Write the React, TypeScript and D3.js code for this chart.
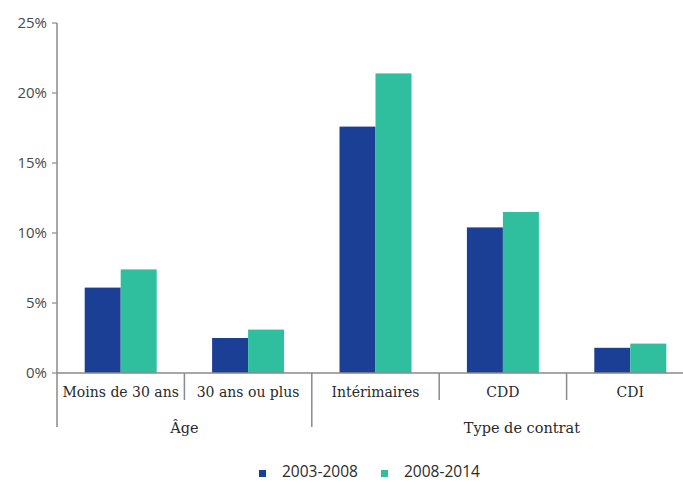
import React, { useEffect, useRef } from "react";
import * as d3 from "d3";

const categories = ["Moins de 30 ans", "30 ans ou plus", "Intérimaires", "CDD", "CDI"];
const groups = [
  { label: "Âge", from: 0, to: 1 },
  { label: "Type de contrat", from: 2, to: 4 },
];
const series = ["2003-2008", "2008-2014"];
const values2003 = [6.1, 2.5, 17.6, 10.4, 1.8];
const values2008 = [7.4, 3.1, 21.4, 11.5, 2.1];
const yTicks = [0, 5, 10, 15, 20, 25];
const colors = ["#1b3f95", "#2fbf9f"];

const W = 683;
const H = 484;
const axisColor = "#8a8a8a";
const serif = "'DejaVu Serif', serif";
const sans = "'Open Sans', 'DejaVu Sans', sans-serif";

export default function App() {
  const ref = useRef<SVGSVGElement>(null);

  useEffect(() => {
    const svg = d3.select(ref.current);
    svg.selectAll("*").remove();

    const x0 = 57;
    const y0 = 373;

    const x = d3.scaleBand<number>().domain(d3.range(categories.length)).range([x0, 694]);
    const y = d3.scaleLinear().domain([0, 25]).range([y0, 23]);
    const inner = d3.scaleBand<number>().domain([0, 1]).range([0, 72]);

    // bars
    const data = [values2003, values2008];
    data.forEach((vals, s) => {
      svg
        .append("g")
        .selectAll("rect")
        .data(vals)
        .join("rect")
        .attr("x", (_, i) => x(i)! + (x.bandwidth() - 72) / 2 + inner(s)!)
        .attr("y", (d) => y(d))
        .attr("width", inner.bandwidth())
        .attr("height", (d) => y0 - y(d))
        .attr("fill", colors[s]);
    });

    // y axis
    svg
      .append("line")
      .attr("x1", x0)
      .attr("x2", x0)
      .attr("y1", y(25))
      .attr("y2", y0 + 54)
      .attr("stroke", axisColor)
      .attr("stroke-width", 1.5);

    const yt = svg.append("g");
    yt.selectAll("line")
      .data(yTicks)
      .join("line")
      .attr("x1", x0 - 5)
      .attr("x2", x0)
      .attr("y1", (d) => y(d))
      .attr("y2", (d) => y(d))
      .attr("stroke", axisColor)
      .attr("stroke-width", 1.2);
    yt.selectAll("text")
      .data(yTicks)
      .join("text")
      .attr("x", x0 - 10)
      .attr("y", (d) => y(d))
      .attr("dy", "0.35em")
      .attr("text-anchor", "end")
      .attr("font-family", sans)
      .attr("font-size", 15)
      .attr("font-weight", 500)
      .attr("fill", "#4a4a4a")
      .text((d) => `${d}%`);

    // x axis
    svg
      .append("line")
      .attr("x1", x0)
      .attr("x2", W)
      .attr("y1", y0)
      .attr("y2", y0)
      .attr("stroke", axisColor)
      .attr("stroke-width", 1.5);

    const groupStarts = groups.map((g) => g.from);
    svg
      .append("g")
      .selectAll("line")
      .data(d3.range(1, categories.length))
      .join("line")
      .attr("x1", (i) => x(i)!)
      .attr("x2", (i) => x(i)!)
      .attr("y1", y0)
      .attr("y2", (i) => (groupStarts.includes(i) ? y0 + 54 : y0 + 27))
      .attr("stroke", axisColor)
      .attr("stroke-width", 1.5);

    svg
      .append("g")
      .selectAll("text")
      .data(categories)
      .join("text")
      .attr("x", (_, i) => x(i)! + x.bandwidth() / 2)
      .attr("y", y0 + 24)
      .attr("text-anchor", "middle")
      .attr("font-family", serif)
      .attr("font-size", 14)
      .attr("fill", "#2a2a2a")
      .text((d) => d);

    svg
      .append("g")
      .selectAll("text")
      .data(groups)
      .join("text")
      .attr("x", (g) => {
        const mid = (x(g.from)! + x(g.to)! + x.bandwidth()) / 2;
        return g.from === 0 ? mid : mid + 19;
      })
      .attr("y", y0 + 60)
      .attr("text-anchor", "middle")
      .attr("font-family", serif)
      .attr("font-size", 14.5)
      .attr("fill", "#2a2a2a")
      .text((g) => g.label);

    // legend
    const legend = svg
      .append("g")
      .selectAll("g")
      .data(series)
      .join("g")
      .attr("transform", (_, i) => `translate(${259 + i * 122},${472})`);
    legend
      .append("rect")
      .attr("x", 0)
      .attr("y", -2)
      .attr("width", 7)
      .attr("height", 7)
      .attr("fill", (_, i) => colors[i]);
    legend
      .append("text")
      .attr("x", 23)
      .attr("y", 0)
      .attr("dy", "0.35em")
      .attr("font-family", sans)
      .attr("font-size", 15.5)
      .attr("fill", "#2a2a2a")
      .text((d) => d);
  }, []);

  return (
    <svg
      ref={ref}
      width={W}
      height={H}
      style={{ position: "absolute", left: 0, top: 0, background: "#fff" }}
    />
  );
}
